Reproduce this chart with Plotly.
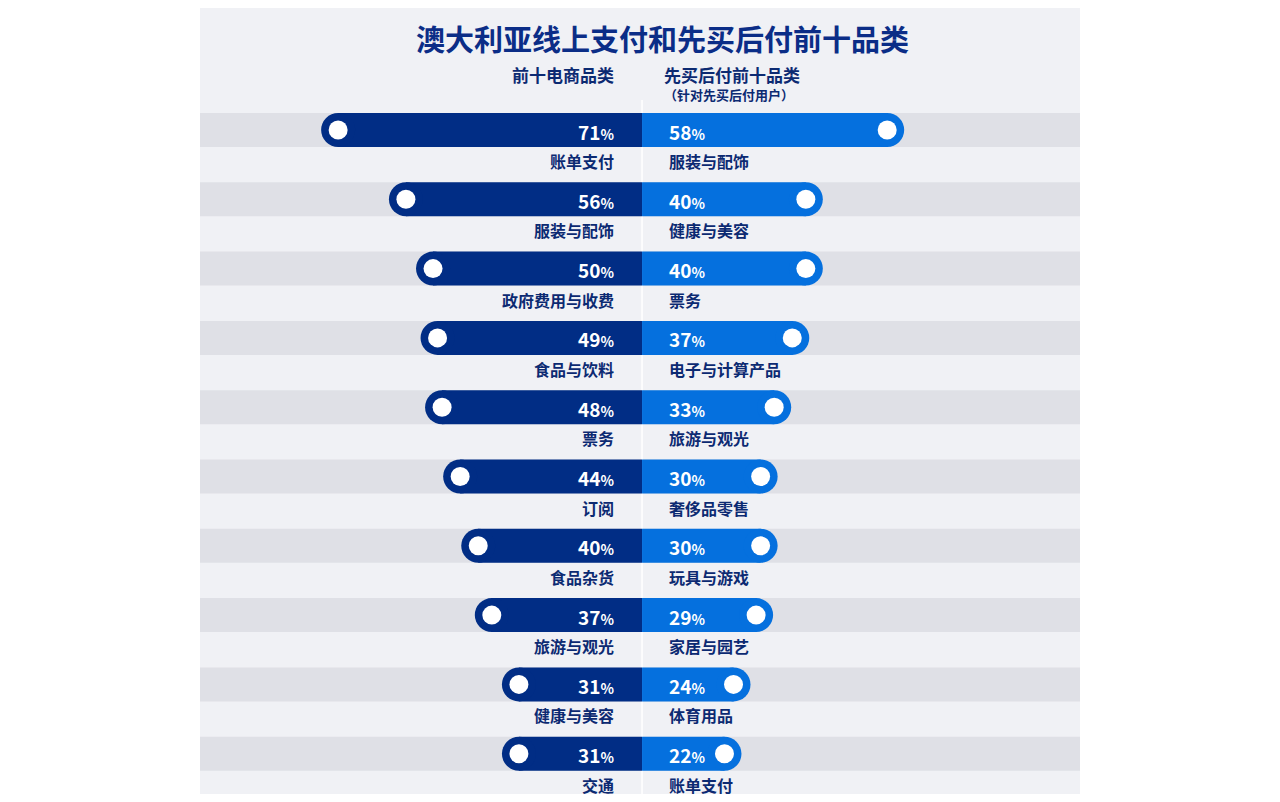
import plotly.graph_objects as go

left_cats = ["账单支付","服装与配饰","政府费用与收费","食品与饮料","票务","订阅","食品杂货","旅游与观光","健康与美容","交通"]
left_vals = [71,56,50,49,48,44,40,37,31,31]
right_cats = ["服装与配饰","健康与美容","票务","电子与计算产品","旅游与观光","奢侈品零售","玩具与游戏","家居与园艺","体育用品","账单支付"]
right_vals = [58,40,40,37,33,30,30,29,24,22]

title = "澳大利亚线上支付和先买后付前十品类"
left_head = "前十电商品类"
right_head = "先买后付前十品类"
right_sub = "（针对先买后付用户）"

NAVY = "#012d85"
BLUE = "#0570de"
TXT = "#0c2a72"
FONT = "Noto Sans CJK SC"

W, H, OFF = 1264, 786, 8
y0, dy = 130, 69.3
ys = [y0 + i*dy for i in range(len(left_vals))]
r = 17/4.52  # end cap radius in data units

fig = go.Figure()
fig.add_bar(y=ys, x=[-(v-r) for v in left_vals], base=0, orientation="h", width=34,
            marker=dict(color=NAVY, line_width=0), hoverinfo="skip")
fig.add_bar(y=ys, x=[v-r for v in right_vals], base=0, orientation="h", width=34,
            marker=dict(color=BLUE, line_width=0), hoverinfo="skip")
fig.add_scatter(x=[-(v-r) for v in left_vals], y=ys, mode="markers",
                marker=dict(color=NAVY, size=34, line_width=0), hoverinfo="skip")
fig.add_scatter(x=[v-r for v in right_vals], y=ys, mode="markers",
                marker=dict(color=BLUE, size=34, line_width=0), hoverinfo="skip")
fig.add_scatter(x=[-(v-r) for v in left_vals], y=ys, mode="markers",
                marker=dict(color="white", size=19), hoverinfo="skip")
fig.add_scatter(x=[v-r for v in right_vals], y=ys, mode="markers",
                marker=dict(color="white", size=19), hoverinfo="skip")

px0, px1 = (200-OFF)/W, (1080-OFF)/W
shapes = [dict(type="rect", xref="paper", yref="paper", x0=px0, x1=px1, y0=0, y1=1,
               fillcolor="#f0f1f5", line_width=0, layer="below")]
for y in ys:
    shapes.append(dict(type="rect", xref="paper", yref="y", x0=px0, x1=px1,
                       y0=y-17, y1=y+17, fillcolor="#dfe0e6", line_width=0, layer="below"))
shapes.append(dict(type="line", xref="x", yref="y", x0=0, x1=0, y0=100, y1=802,
                   line=dict(color="#ffffff", width=1.5), layer="below"))

ann = []
def pct(v):
    return f"<b>{v}</b><span style='font-size:14px'><b>%</b></span>"
for y, v, c in zip(ys, left_vals, left_cats):
    ann.append(dict(x=-5.8, y=y+1, text=pct(v), xanchor="right", showarrow=False,
                    font=dict(size=19, color="white", family=FONT)))
    ann.append(dict(x=-5.8, y=y+31, text=f"<b>{c}</b>", xanchor="right", showarrow=False,
                    font=dict(size=16, color=TXT, family=FONT)))
for y, v, c in zip(ys, right_vals, right_cats):
    ann.append(dict(x=5.5, y=y+1, text=pct(v), xanchor="left", showarrow=False,
                    font=dict(size=19, color="white", family=FONT)))
    ann.append(dict(x=5.5, y=y+31, text=f"<b>{c}</b>", xanchor="left", showarrow=False,
                    font=dict(size=16, color=TXT, family=FONT)))
ann.append(dict(xref="paper", x=(662-OFF)/W, y=38, text=f"<b>{title}</b>", showarrow=False,
                font=dict(size=29, color="#0b2d87", family=FONT)))
ann.append(dict(x=-5.8, y=74, text=f"<b>{left_head}</b>", xanchor="right", showarrow=False,
                font=dict(size=17, color=TXT, family=FONT)))
ann.append(dict(x=4.5, y=74, text=f"<b>{right_head}</b>", xanchor="left", showarrow=False,
                font=dict(size=17, color=TXT, family=FONT)))
ann.append(dict(x=4.5, y=94, text=f"<b>{right_sub}</b>", xanchor="left", showarrow=False,
                font=dict(size=13, color=TXT, family=FONT)))

fig.update_layout(
    width=W, height=H, margin=dict(l=0, r=0, t=0, b=0),
    paper_bgcolor="white", plot_bgcolor="rgba(0,0,0,0)",
    showlegend=False, barmode="overlay", shapes=shapes, annotations=ann,
    xaxis=dict(domain=[px0, px1], range=[-97.8, 96.9], visible=False, fixedrange=True),
    yaxis=dict(domain=[0, 1], range=[OFF+H, OFF], visible=False, fixedrange=True),
)
fig.write_html("out.html")
